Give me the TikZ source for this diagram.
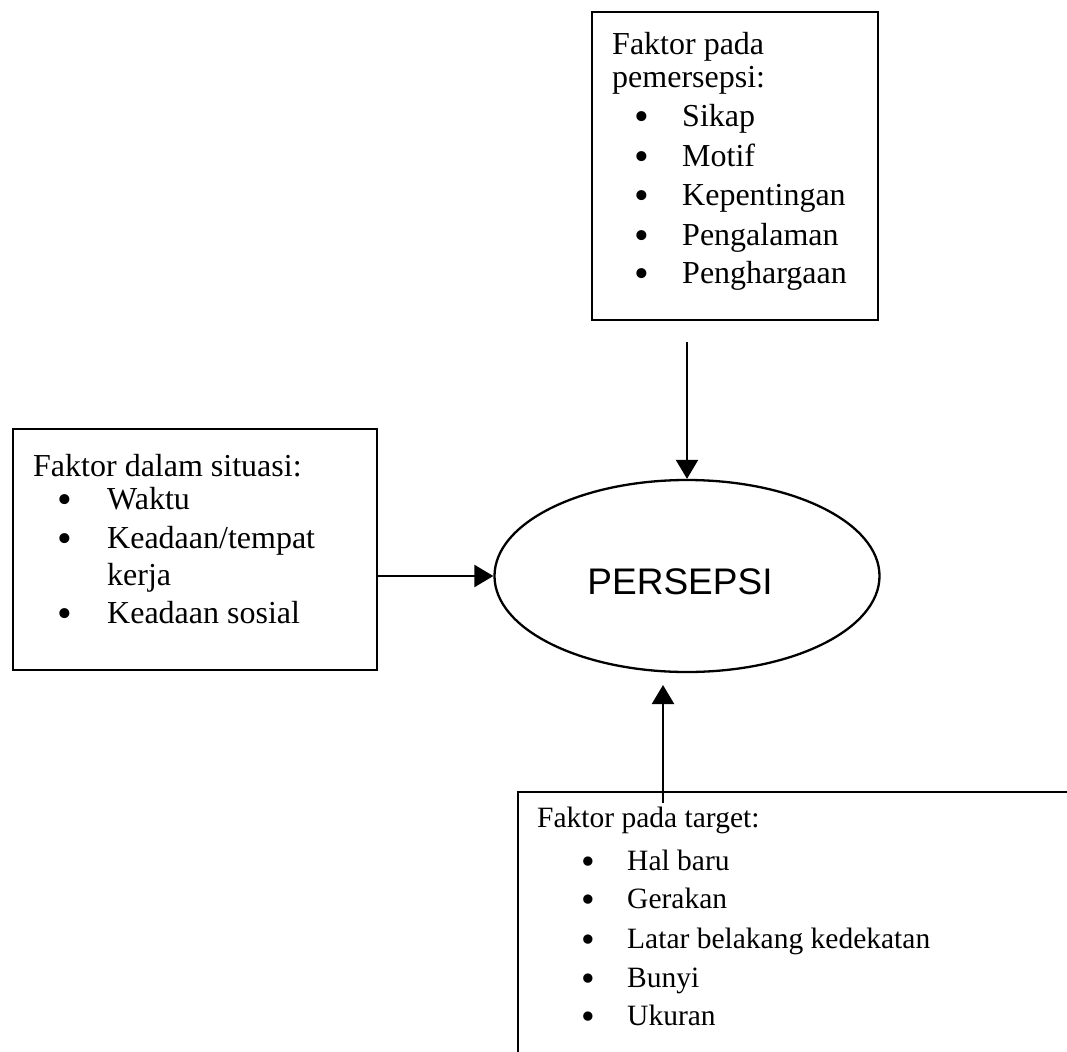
\documentclass[tikz,border=0pt]{standalone}
\usepackage{fontspec}
\setmainfont{Liberation Serif}
\newfontfamily\arialfont{Liberation Sans}
\usetikzlibrary{shapes.geometric,arrows.meta}
\tikzset{
  boxs/.style={draw, rectangle, inner sep=0pt, line width=2.3pt},
  txt/.style={anchor=base west, inner sep=0pt, font=\fontsize{32}{38}\selectfont},
  txtb/.style={anchor=base west, inner sep=0pt, font=\fontsize{29.5}{36}\selectfont},
  bul/.style={anchor=base, inner sep=0pt, font=\fontsize{42}{44}\selectfont},
  arr/.style={line width=2.3pt, -{Triangle[length=19pt,width=22pt]}},
}
\newcommand{\bulmark}{\smash{•}}
\begin{document}
\begin{tikzpicture}[x=1pt,y=-1pt]
\clip (0,0) rectangle (1067,1051);
\fill[white] (0,0) rectangle (1067,1051);

% boxes
\node[boxs, minimum width=286pt, minimum height=308pt] (pemersepsi) at (735,166) {};
\node[boxs, minimum width=364pt, minimum height=241pt] (situasi) at (195,549.5) {};
\node[boxs, minimum width=562pt, minimum height=278pt] (target) at (799,931) {};

% ellipse
\node[draw, ellipse, line width=2.3pt, inner sep=0pt, minimum width=385pt, minimum height=192pt] (persepsi) at (687,576) {};
\node[inner sep=0pt, font=\arialfont\fontsize{37}{40}\selectfont] (plabel) at (680,582) {PERSEPSI};

% top box text
\node[txt] (t0a) at (612,55) {Faktor pada};
\node[txt] (t0b) at (612,88) {pemersepsi:};
\foreach \t/\y [count=\i] in {Sikap/127, Motif/167, Kepentingan/205, Pengalaman/245, Penghargaan/283}{
  \node[bul] (tb\i) at (642,\y+4) {\bulmark};
  \node[txt] (ti\i) at (682,\y) {\t};
}

% left box text
\node[txt] (l0) at (33,476) {Faktor dalam situasi:};
\node[bul] (lb1) at (65,513) {\bulmark};
\node[txt] (li1) at (107,509) {Waktu};
\node[bul] (lb2) at (65,552) {\bulmark};
\node[txt] (li2) at (107,548) {Keadaan/tempat};
\node[txt] (li2b) at (107,585) {kerja};
\node[bul] (lb3) at (65,627) {\bulmark};
\node[txt] (li3) at (107,623) {Keadaan sosial};

% bottom box text
\node[txtb] (b0) at (537,827) {Faktor pada target:};
\foreach \t/\y [count=\i] in {Hal baru/870, Gerakan/908, Latar belakang kedekatan/948, Bunyi/987, Ukuran/1025}{
  \node[bul, font=\fontsize{39}{42}\selectfont] (bb\i) at (588,\y+4) {\bulmark};
  \node[txtb] (bi\i) at (627,\y) {\t};
}

% connectors
\coordinate (topstart) at (687,342);
\draw[arr] (topstart) -- (persepsi.north);
\draw[arr] (situasi.east |- persepsi.west) -- (persepsi.west);
\coordinate (botstart) at (663,803);
\coordinate (botend) at (663,685);
\draw[arr] (botstart) -- (botend);
\end{tikzpicture}
\end{document}
